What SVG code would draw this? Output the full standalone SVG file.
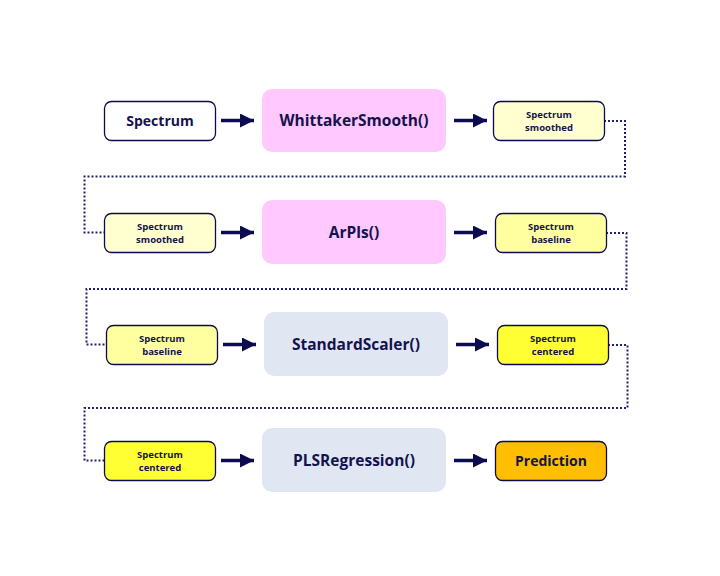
<svg xmlns="http://www.w3.org/2000/svg" width="720" height="576" viewBox="0 0 720 576">
<defs>
<marker id="ah" viewBox="0 0 14 14" refX="14" refY="7" markerWidth="14" markerHeight="14" markerUnits="userSpaceOnUse" orient="auto">
<path d="M0,0 L14,7 L0,14 Z" fill="#0d0b4f"/>
</marker>
<style>
.bg{fill:#ffffff}
.small{stroke:#0d0b4f;stroke-width:1.3}
.big{stroke:none}
.t{font-family:"Open Sans","DejaVu Sans",sans-serif;font-weight:bold;fill:#14124f;text-anchor:middle}
.tl{font-size:15.5px}
.tm{font-size:14px}
.ts{font-size:9.5px}
.arrow{stroke:#0d0b4f;stroke-width:3.5;fill:none;marker-end:url(#ah)}
.dot{stroke:#23206e;stroke-width:2;stroke-dasharray:2 2;fill:none}
.white{fill:#ffffff}
.ly1{fill:#ffffd0}
.ly2{fill:#ffffa0}
.ly3{fill:#ffff33}
.or{fill:#ffbf00}
.pink{fill:#ffc8ff}
.grey{fill:#e1e7f2}
</style>
</defs>
<rect class="bg" x="0" y="0" width="720" height="576"/>
<g id="connectors">
<line class="arrow" x1="221" y1="120.5" x2="254" y2="120.5"/>
<line class="arrow" x1="454" y1="120.5" x2="487" y2="120.5"/>
<line class="arrow" x1="221" y1="232.5" x2="254" y2="232.5"/>
<line class="arrow" x1="454" y1="232.5" x2="487" y2="232.5"/>
<line class="arrow" x1="223" y1="344.5" x2="256" y2="344.5"/>
<line class="arrow" x1="456" y1="344.5" x2="489" y2="344.5"/>
<line class="arrow" x1="221" y1="460.5" x2="254" y2="460.5"/>
<line class="arrow" x1="454" y1="460.5" x2="487" y2="460.5"/>
<polyline class="dot" points="604,121 625,121 625,176.5 84.5,176.5 84.5,232.5 104,232.5"/>
<polyline class="dot" points="606,233 626.5,233 626.5,289 86.5,289 86.5,344.5 106,344.5"/>
<polyline class="dot" points="608,345 627.5,345 627.5,408 84.5,408 84.5,460.5 104,460.5"/>
</g>
<g id="spectrum">
<rect class="small white" x="104.5" y="101.5" width="111" height="39" rx="7"/>
<text class="t tm" x="160" y="125.5">Spectrum</text>
</g>
<g id="whittaker">
<rect class="big pink" x="262" y="89" width="184" height="63" rx="10"/>
<text class="t tl" x="354" y="126">WhittakerSmooth()</text>
</g>
<g id="smoothed1">
<rect class="small ly1" x="493.5" y="101.5" width="111" height="39" rx="7"/>
<text class="t ts" x="549" y="117.5">Spectrum</text>
<text class="t ts" x="549" y="130.5">smoothed</text>
</g>
<g id="smoothed2">
<rect class="small ly1" x="104.5" y="213.5" width="111" height="39" rx="7"/>
<text class="t ts" x="160" y="229.5">Spectrum</text>
<text class="t ts" x="160" y="242.5">smoothed</text>
</g>
<g id="arpls">
<rect class="big pink" x="262" y="200" width="184" height="64" rx="10"/>
<text class="t tl" x="354" y="238">ArPls()</text>
</g>
<g id="baseline1">
<rect class="small ly2" x="495.5" y="213.5" width="111" height="39" rx="7"/>
<text class="t ts" x="551" y="229.5">Spectrum</text>
<text class="t ts" x="551" y="242.5">baseline</text>
</g>
<g id="baseline2">
<rect class="small ly2" x="106.5" y="325.5" width="111" height="39" rx="7"/>
<text class="t ts" x="162" y="341.5">Spectrum</text>
<text class="t ts" x="162" y="354.5">baseline</text>
</g>
<g id="scaler">
<rect class="big grey" x="264" y="312" width="184" height="64" rx="10"/>
<text class="t tl" x="356" y="350">StandardScaler()</text>
</g>
<g id="centered1">
<rect class="small ly3" x="497.5" y="325.5" width="111" height="39" rx="7"/>
<text class="t ts" x="553" y="341.5">Spectrum</text>
<text class="t ts" x="553" y="354.5">centered</text>
</g>
<g id="centered2">
<rect class="small ly3" x="104.5" y="441.5" width="111" height="39" rx="7"/>
<text class="t ts" x="160" y="457.5">Spectrum</text>
<text class="t ts" x="160" y="470.5">centered</text>
</g>
<g id="pls">
<rect class="big grey" x="262" y="428" width="184" height="64" rx="10"/>
<text class="t tl" x="354" y="466">PLSRegression()</text>
</g>
<g id="prediction">
<rect class="small or" x="495.5" y="441.5" width="111" height="39" rx="7"/>
<text class="t tm" x="551" y="465.5">Prediction</text>
</g>
</svg>
